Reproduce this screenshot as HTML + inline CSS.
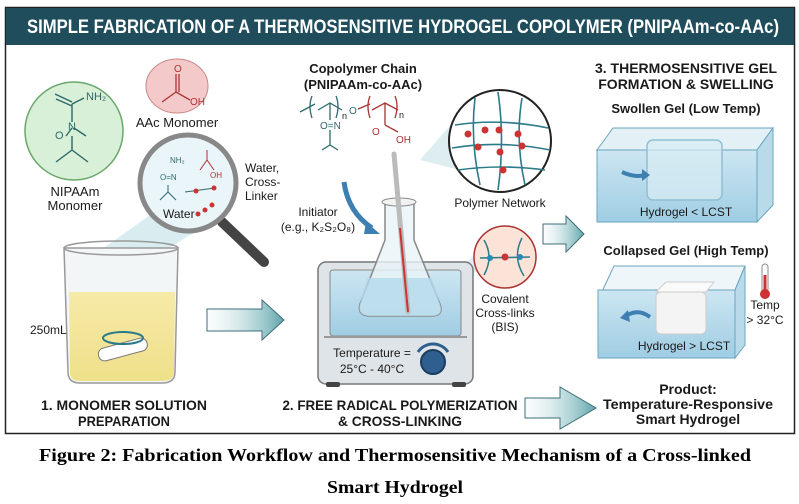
<!DOCTYPE html>
<html><head><meta charset="utf-8"><style>
html,body{margin:0;padding:0;background:#fff;}
svg{display:block;}
.b{font-family:"Liberation Sans",sans-serif;font-weight:bold;fill:#1a1a1a;}
.t{font-family:"Liberation Sans",sans-serif;fill:#1a1a1a;}
.cap{font-family:"Liberation Serif",serif;font-weight:bold;font-size:18px;fill:#000;}
</style></head><body>
<svg width="799" height="504" viewBox="0 0 799 504" xmlns="http://www.w3.org/2000/svg">
<defs>
<linearGradient id="ar" x1="0" x2="1"><stop offset="0" stop-color="#e8f4f5" stop-opacity="0.2"/><stop offset="1" stop-color="#5fa5ad"/></linearGradient>
<linearGradient id="liq" x1="0" y1="0" x2="0" y2="1"><stop offset="0" stop-color="#f6eaa8"/><stop offset="1" stop-color="#efe08a"/></linearGradient>
<linearGradient id="wat" x1="0" y1="0" x2="0" y2="1"><stop offset="0" stop-color="#cde6f2"/><stop offset="1" stop-color="#9fcde3"/></linearGradient>
</defs>
<rect x="5.5" y="7.5" width="789" height="426" fill="#fff" stroke="#222" stroke-width="1.5"/>
<rect x="6" y="8" width="788" height="37" fill="#1f4d5c"/>
<text x="403" y="33" text-anchor="middle" class="b" style="fill:#fff;font-size:19px" textLength="752" lengthAdjust="spacingAndGlyphs">SIMPLE FABRICATION OF A THERMOSENSITIVE HYDROGEL COPOLYMER (PNIPAAm-co-AAc)</text>

<circle cx="74" cy="131" r="49" fill="#d8efd8" stroke="#6aa86a" stroke-width="1.5"/>
<g stroke="#2d6a6a" stroke-width="1.4" fill="none">
<path d="M55 94 L72 102 M56 99 L72 106 M72 104 L72 122 M72 104 L84 98 M72 128 L66 136 M74 128 L86 136 M72 136 L72 150 M72 150 L56 162 M72 150 L88 162 M72 150 L72 142"/>
</g>
<text x="86" y="100" class="t" style="font-size:11px;fill:#2d6a6a">NH₂</text>
<text x="68" y="130" class="t" style="font-size:11px;fill:#2d6a6a">N</text>
<text x="55" y="139" class="t" style="font-size:11px;fill:#2d6a6a">O</text>
<text x="75" y="196" text-anchor="middle" class="t" style="font-size:13px">NIPAAm</text>
<text x="75" y="210" text-anchor="middle" class="t" style="font-size:13px">Monomer</text>

<ellipse cx="177" cy="86" rx="31" ry="27" fill="#f4c9c9" stroke="#c88" stroke-width="1"/>
<path d="M162 102 L176 92 L190 100 M176 92 L176 74 M179 92 L179 74" stroke="#a33" stroke-width="1.3" fill="none"/>
<text x="174" y="72" class="t" style="font-size:10px;fill:#a33">O</text>
<text x="190" y="105" class="t" style="font-size:10px;fill:#a33">OH</text>
<text x="177" y="127" text-anchor="middle" class="t" style="font-size:13px">AAc Monomer</text>

<polygon points="150,215 195,232 125,275 80,265" fill="#bfe0e6" opacity="0.6"/>
<line x1="222" y1="222" x2="264" y2="262" stroke="#444" stroke-width="10" stroke-linecap="round"/>
<circle cx="188" cy="183" r="48" fill="#eaf5f9" stroke="#888" stroke-width="5"/>
<text x="170" y="163" class="t" style="font-size:8px;fill:#2d6a6a">NH₂</text>
<text x="160" y="180" class="t" style="font-size:8px;fill:#2d6a6a">O=N</text>
<path d="M200 170 L207 160 L214 170 M207 160 L207 150" stroke="#a33" fill="none"/>
<text x="210" y="178" class="t" style="font-size:8px;fill:#a33">OH</text>
<path d="M160 200 L168 192 L176 200 M168 192 L168 185 M185 192 L215 188" stroke="#2d6a6a" fill="none"/>
<circle cx="196" cy="191" r="2.5" fill="#c33"/><circle cx="214" cy="188" r="2.5" fill="#c33"/>
<circle cx="205" cy="210" r="2.5" fill="#c33"/><circle cx="212" cy="205" r="2.5" fill="#c33"/><circle cx="198" cy="214" r="2.5" fill="#c33"/>
<text x="163" y="218" class="t" style="font-size:12px">Water</text>
<text x="245" y="172" class="t" style="font-size:12px">Water,</text>
<text x="245" y="186" class="t" style="font-size:12px">Cross-</text>
<text x="245" y="200" class="t" style="font-size:12px">Linker</text>

<path d="M64 248 L178 248 L175 372 Q175 383 162 383 L80 383 Q68 383 68 372 Z" fill="#f3f6f7" stroke="#999" stroke-width="1.5"/>
<path d="M69 292 L175 292 L174 372 Q174 381 162 381 L80 381 Q70 381 70 372 Z" fill="url(#liq)"/>
<ellipse cx="121" cy="248" rx="57" ry="7" fill="none" stroke="#999" stroke-width="1.5"/>
<rect x="98" y="343" width="50" height="13" rx="6" fill="#fff" stroke="#777" transform="rotate(-15 123 350)"/>
<ellipse cx="123" cy="338" rx="20" ry="6" fill="none" stroke="#2a7a8a" stroke-width="2"/>
<text x="30" y="334" class="t" style="font-size:12px">250mL</text>

<polygon points="207,309 262,309 262,300 284,320 262,340 262,331 207,331" fill="url(#ar)" stroke="#3c6e78" stroke-width="1"/>

<text x="363" y="73" text-anchor="middle" class="b" style="font-size:13px">Copolymer Chain</text>
<text x="363" y="89" text-anchor="middle" class="b" style="font-size:13px">(PNIPAAm-co-AAc)</text>
<g fill="none" stroke-width="1.3">
<path d="M300 112 L315 104 M312 96 Q308 106 312 118 M318 110 L330 103 L342 110 M336 96 Q340 106 336 118 M330 103 L330 120 M330 130 L330 145 M322 150 L330 145 L338 150 M330 145 L330 138" stroke="#2d6a6a"/>
<path d="M358 109 L370 104 M370 96 Q366 106 370 118 M372 110 L385 103 L398 110 M395 96 Q399 106 395 118 M385 103 L385 125 M385 125 L398 132" stroke="#a33"/>
</g>
<text x="342" y="119" class="t" style="font-size:9px">n</text>
<text x="349" y="114" class="t" style="font-size:10px;fill:#2d6a6a">O</text>
<text x="399" y="118" class="t" style="font-size:9px">n</text>
<text x="320" y="129" class="t" style="font-size:10px;fill:#2d6a6a">O=N</text>
<text x="372" y="135" class="t" style="font-size:10px;fill:#a33">O</text>
<text x="396" y="143" class="t" style="font-size:10px;fill:#a33">OH</text>

<text x="318" y="216" text-anchor="middle" class="t" style="font-size:12px">Initiator</text>
<text x="318" y="231" text-anchor="middle" class="t" style="font-size:12px">(e.g., K₂S₂O₈)</text>
<path d="M344 182 Q348 212 372 228" stroke="#3c7fb0" stroke-width="5" fill="none"/>
<polygon points="366,222 380,234 364,234" fill="#3c7fb0"/>

<polygon points="420,160 455,120 460,170" fill="#cfe6ea" opacity="0.7"/>
<polygon points="435,290 480,250 480,270" fill="#cfe6ea" opacity="0.7"/>

<rect x="318" y="262" width="155" height="122" rx="8" fill="#dfe4e8" stroke="#777" stroke-width="1.5"/>
<rect x="330" y="270" width="131" height="66" rx="3" fill="url(#wat)" stroke="#888"/>
<rect x="324" y="336" width="143" height="2" fill="#999"/>
<rect x="326" y="382" width="14" height="5" rx="2" fill="#444"/><rect x="452" y="382" width="14" height="5" rx="2" fill="#444"/>
<text x="372" y="357" text-anchor="middle" class="t" style="font-size:12px">Temperature =</text>
<text x="372" y="373" text-anchor="middle" class="t" style="font-size:12px">25°C - 40°C</text>
<circle cx="433" cy="362" r="12" fill="#2f5f8f" stroke="#1c3d5e" stroke-width="2"/>
<path d="M418 352 A18 18 0 0 1 448 352" stroke="#2f5f8f" stroke-width="3" fill="none"/>
<path d="M385 202 L385 240 L360 304 Q357 316 370 316 L432 316 Q444 316 440 304 L414 240 L414 202 Z" fill="#e9f4f8" fill-opacity="0.8" stroke="#888" stroke-width="1.5"/>
<path d="M367 278 L432 278 L440 304 Q444 316 432 316 L370 316 Q357 316 360 304 Z" fill="#b4d9ea" opacity="0.8"/>
<ellipse cx="399" cy="202" rx="17" ry="4" fill="#f2f2f2" stroke="#888"/>
<line x1="394" y1="154" x2="408" y2="312" stroke="#bbb" stroke-width="5" stroke-linecap="round"/>
<line x1="400" y1="228" x2="408" y2="312" stroke="#c33" stroke-width="2"/>

<circle cx="500" cy="141" r="51" fill="#fff" stroke="#222" stroke-width="2"/>
<g stroke="#2a7a8a" stroke-width="1.6" fill="none">
<path d="M455 125 Q500 118 548 128 M452 148 Q500 140 550 150 M458 170 Q500 164 545 170"/>
<path d="M475 98 Q470 140 480 185 M498 92 Q505 140 498 190 M522 98 Q515 140 525 185"/>
</g>
<g fill="#c33"><circle cx="468" cy="134" r="3.5"/><circle cx="485" cy="130" r="3.5"/><circle cx="499" cy="130" r="3.5"/><circle cx="518" cy="134" r="3.5"/><circle cx="478" cy="147" r="3.5"/><circle cx="500" cy="152" r="3.5"/><circle cx="522" cy="146" r="3.5"/><circle cx="503" cy="170" r="3.5"/></g>
<text x="500" y="207" text-anchor="middle" class="t" style="font-size:12px">Polymer Network</text>

<circle cx="505" cy="257" r="31" fill="#fbe3d8" stroke="#a33" stroke-width="1.5"/>
<g stroke="#2a7a8a" stroke-width="1.5" fill="none"><path d="M484 240 Q494 257 484 275 M522 238 Q512 257 524 276 M480 258 L530 257"/></g>
<circle cx="490" cy="258" r="3" fill="#2a8ab0"/><circle cx="505" cy="257" r="3.5" fill="#c33"/><circle cx="520" cy="257" r="3" fill="#2a8ab0"/>
<text x="505" y="303" text-anchor="middle" class="t" style="font-size:12px">Covalent</text>
<text x="505" y="317" text-anchor="middle" class="t" style="font-size:12px">Cross-links</text>
<text x="505" y="331" text-anchor="middle" class="t" style="font-size:12px">(BIS)</text>

<polygon points="543,224 566,224 566,216 584,234 566,252 566,244 543,244" fill="url(#ar)" stroke="#3c6e78"/>

<text x="686" y="73" text-anchor="middle" class="b" style="font-size:14px">3. THERMOSENSITIVE GEL</text>
<text x="686" y="89" text-anchor="middle" class="b" style="font-size:14px">FORMATION &amp; SWELLING</text>
<text x="686" y="113" text-anchor="middle" class="b" style="font-size:13px">Swollen Gel (Low Temp)</text>
<polygon points="597,150 613,128 773,128 757,150" fill="#e3f1f7" stroke="#6aa4c0"/>
<rect x="597" y="150" width="160" height="72" fill="url(#wat)" stroke="#6aa4c0"/>
<polygon points="757,150 773,128 773,205 757,222" fill="#b9dbe9" stroke="#6aa4c0"/>
<rect x="647" y="140" width="75" height="60" rx="6" fill="#d8ecf4" fill-opacity="0.7" stroke="#8fbfd3" stroke-width="1.5"/>
<path d="M622 172 Q635 178 645 175" stroke="#3c7fb0" stroke-width="4" fill="none"/>
<polygon points="642,169 650,175 642,181" fill="#3c7fb0"/>
<text x="686" y="216" text-anchor="middle" class="t" style="font-size:12px">Hydrogel &lt; LCST</text>

<text x="686" y="255" text-anchor="middle" class="b" style="font-size:13px">Collapsed Gel (High Temp)</text>
<polygon points="598,300 614,266 745,266 745,266 735,290 598,300" fill="#eef6f9" stroke="#6aa4c0"/>
<rect x="598" y="290" width="137" height="68" fill="url(#wat)" stroke="#6aa4c0"/>
<polygon points="735,290 745,266 745,345 735,358" fill="#b9dbe9" stroke="#6aa4c0"/>
<rect x="656" y="292" width="50" height="42" rx="5" fill="#f4f4f4" stroke="#ccc"/>
<polygon points="656,292 666,282 714,282 706,292" fill="#fafafa" stroke="#ccc"/>
<path d="M650 317 Q638 308 626 316" stroke="#3c7fb0" stroke-width="4" fill="none"/>
<polygon points="628,310 620,318 630,322" fill="#3c7fb0"/>
<text x="684" y="350" text-anchor="middle" class="t" style="font-size:12px">Hydrogel &gt; LCST</text>
<rect x="762" y="264" width="6" height="28" rx="3" fill="#fff" stroke="#888"/>
<circle cx="765" cy="294" r="5" fill="#c33"/><rect x="763.5" y="275" width="3" height="18" fill="#c33"/>
<text x="765" y="309" text-anchor="middle" class="t" style="font-size:12px">Temp</text>
<text x="765" y="324" text-anchor="middle" class="t" style="font-size:12px">&gt; 32°C</text>

<polygon points="525,398 560,398 560,387 596,408 560,429 560,418 525,418" fill="url(#ar)" stroke="#3c6e78"/>

<text x="124" y="410" text-anchor="middle" class="b" style="font-size:14px" textLength="166" lengthAdjust="spacingAndGlyphs">1. MONOMER SOLUTION</text>
<text x="124" y="426" text-anchor="middle" class="b" style="font-size:14px" textLength="92" lengthAdjust="spacingAndGlyphs">PREPARATION</text>
<text x="400" y="410" text-anchor="middle" class="b" style="font-size:14px" textLength="235" lengthAdjust="spacingAndGlyphs">2. FREE RADICAL POLYMERIZATION</text>
<text x="400" y="426" text-anchor="middle" class="b" style="font-size:14px" textLength="124" lengthAdjust="spacingAndGlyphs">&amp; CROSS-LINKING</text>
<text x="688" y="394" text-anchor="middle" class="b" style="font-size:14px">Product:</text>
<text x="688" y="409" text-anchor="middle" class="b" style="font-size:14px" textLength="170" lengthAdjust="spacingAndGlyphs">Temperature-Responsive</text>
<text x="688" y="424" text-anchor="middle" class="b" style="font-size:14px">Smart Hydrogel</text>

<text x="395" y="461" text-anchor="middle" class="cap" textLength="712" lengthAdjust="spacingAndGlyphs">Figure 2: Fabrication Workflow and Thermosensitive Mechanism of a Cross-linked</text>
<text x="395" y="493" text-anchor="middle" class="cap" textLength="136" lengthAdjust="spacingAndGlyphs">Smart Hydrogel</text>
</svg>
</body></html>
